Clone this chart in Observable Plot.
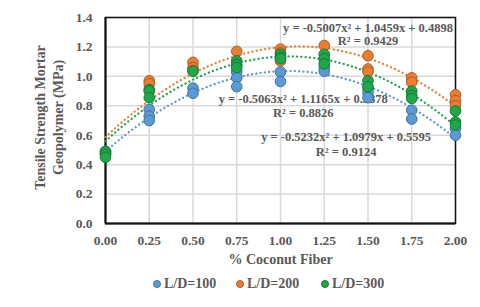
<!DOCTYPE html>
<html>
<head>
<meta charset="utf-8">
<script src="https://cdn.jsdelivr.net/npm/d3@7"></script>
<script src="https://cdn.jsdelivr.net/npm/@observablehq/plot@0.6"></script>
<style>
  body { margin: 0; background: #fff; }
  #wrap { position: relative; width: 480px; height: 307px; font-family: "Liberation Serif", "Times New Roman", serif; }
  .leg { position: absolute; top: 276px; font-weight: bold; font-size: 14px; color: #595959; display: flex; align-items: center; white-space: nowrap; }
  .leg i { display: inline-block; width: 8px; height: 8px; border-radius: 50%; margin-right: 3px; box-sizing: border-box; }
</style>
</head>
<body>
<div id="wrap"></div>
<script>
// ---- data ----
const fiber = [0, 0.25, 0.5, 0.75, 1.0, 1.25, 1.5, 1.75, 2.0];
const seriesNames = ["L/D=100", "L/D=200", "L/D=300"];
const ld100 = [[0.49, 0.47], [0.775, 0.73, 0.70], [0.92, 0.885], [1.03, 0.99, 0.93], [1.03, 0.965], [1.06, 1.035], [0.92, 0.89, 0.855], [0.77, 0.71], [0.645, 0.60]];
const ld200 = [[0.48], [0.97, 0.95], [1.095, 1.06, 1.04], [1.17], [1.185, 1.16, 1.105], [1.21], [1.14, 1.05, 1.03], [0.99, 0.96], [0.875, 0.835, 0.80]];
const ld300 = [[0.49, 0.47, 0.45], [0.91, 0.90, 0.855], [1.035], [1.105, 1.08, 1.06], [1.15, 1.13, 1.12], [1.15, 1.12, 1.085], [0.97, 0.93], [0.90, 0.87, 0.85], [0.765, 0.69, 0.67]];
// trendline coefficients (a, b, c) as printed on the chart: y = a x^2 + b x + c
const trendA = [-0.5007, -0.5063, -0.5232];
const trendB = [1.0459, 1.1165, 1.0979];
const trendC = [0.4898, 0.5878, 0.5595];
const eqLabels = ["y = -0.5007x² + 1.0459x + 0.4898", "R² = 0.9429",
                  "y = -0.5063x² + 1.1165x + 0.5878", "R² = 0.8826",
                  "y = -0.5232x² + 1.0979x + 0.5595", "R² = 0.9124"];
const eqX = [1.50, 1.50, 1.13, 1.13, 1.375, 1.375];
const eqY = [1.332, 1.237, 0.843, 0.748, 0.585, 0.483];
const xTicks = [0, 0.25, 0.5, 0.75, 1.0, 1.25, 1.5, 1.75, 2.0];
const yTicks = [0, 0.2, 0.4, 0.6, 0.8, 1.0, 1.2, 1.4];

const fills = ["#5B9BD5", "#ED7D31", "#1FA74A"];
const strokes = ["#41719C", "#AE5A21", "#137A35"];
const font = '"Liberation Serif", "Times New Roman", serif';
const gray = "#595959";

// ---- build tables ----
const allSeries = [ld100, ld200, ld300];
const points = [];
allSeries.forEach((s, si) => s.forEach((vals, xi) => vals.forEach(v => points.push({x: fiber[xi], y: v, s: si}))));
const curves = [];
seriesNames.forEach((n, si) => {
  for (let i = 0; i <= 100; i++) {
    const x = i * 0.02;
    curves.push({x, y: trendA[si] * x * x + trendB[si] * x + trendC[si], s: si});
  }
});
const labels = eqLabels.map((t, i) => ({t, x: eqX[i], y: eqY[i]}));

const chart = Plot.plot({
  width: 480, height: 270,
  marginLeft: 105, marginRight: 25, marginTop: 17, marginBottom: 47,
  style: {fontFamily: font, fontWeight: "bold", background: "#fff", overflow: "visible"},
  x: {domain: [0, 2]},
  y: {domain: [0, 1.4]},
  marks: [
    Plot.gridX(xTicks, {stroke: "#d9d9d9", strokeOpacity: 1, strokeWidth: 1.5}),
    Plot.gridY(yTicks, {stroke: "#d9d9d9", strokeOpacity: 1, strokeWidth: 1.5}),
    Plot.frame({stroke: "#111", strokeWidth: 1.5}),
    Plot.ruleX([0], {stroke: "#111", strokeWidth: 2}),
    Plot.ruleY([0], {stroke: "#111", strokeWidth: 2}),
    Plot.axisX(xTicks, {tickSize: 0, tickPadding: 12, fontSize: 13.5, fill: gray, tickFormat: d3.format(".2f"), label: null}),
    Plot.axisY(yTicks, {tickSize: 0, tickPadding: 13, fontSize: 13.5, fill: gray, tickFormat: d3.format(".1f"), label: null}),
    Plot.text(["% Coconut Fiber"], {frameAnchor: "bottom", dy: 40, fontSize: 14, fill: gray, fontWeight: "bold"}),
    Plot.text(["Tensile Strength Mortar\nGeopolymer (MPa)"], {frameAnchor: "left", dx: -57.5, dy: -3, rotate: -90, fontSize: 14, lineHeight: 1.35, fill: gray, fontWeight: "bold", textAnchor: "middle"}),
    Plot.line(curves, {x: "x", y: "y", z: "s", stroke: d => fills[d.s], strokeWidth: 2.3, strokeDasharray: "0.1 4.2", strokeLinecap: "round"}),
    Plot.text(labels, {x: "x", y: "y", text: "t", fontSize: 12.5, fill: gray, fontWeight: "bold"}),
    Plot.dot(points, {x: "x", y: "y", r: 5.3, fill: d => fills[d.s], stroke: d => strokes[d.s], strokeWidth: 1, fillOpacity: 1})
  ]
});

const wrap = document.getElementById("wrap");
wrap.appendChild(chart);
const legX = [153, 236, 321];
seriesNames.forEach((n, i) => {
  const d = document.createElement("div");
  d.className = "leg";
  d.style.left = legX[i] + "px";
  d.innerHTML = `<i style="background:${fills[i]};border:1px solid ${strokes[i]}"></i>${n}`;
  wrap.appendChild(d);
});
</script>
</body>
</html>
